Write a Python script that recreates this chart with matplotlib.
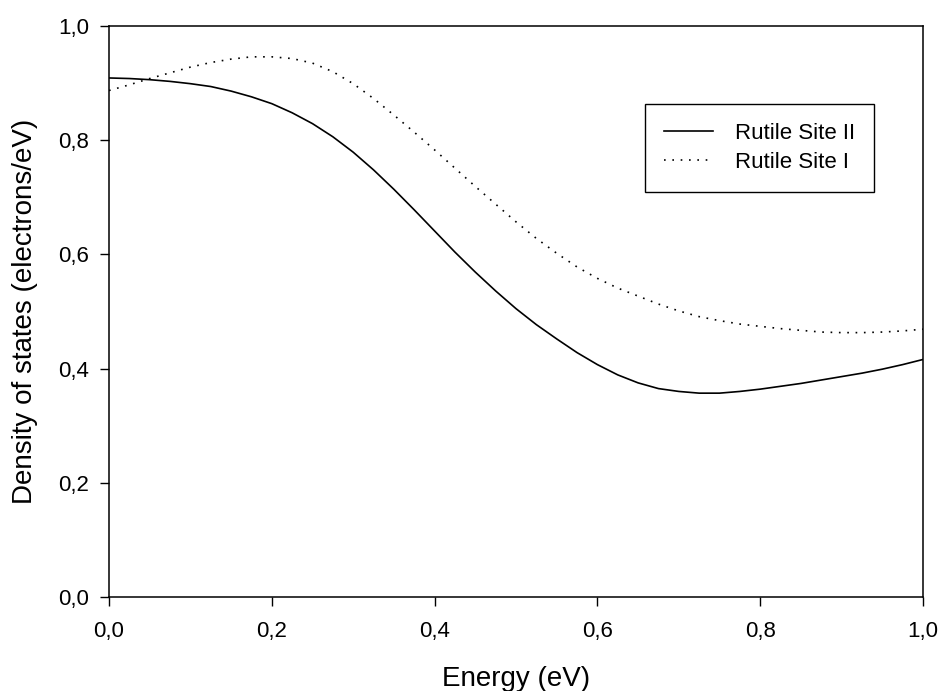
import matplotlib
matplotlib.use("Agg")
import matplotlib.pyplot as plt
from matplotlib.ticker import FixedLocator, FixedFormatter

plt.rcParams['font.family'] = ['Liberation Sans', 'DejaVu Sans']

energy = [0.000, 0.025, 0.050, 0.075, 0.100, 0.125, 0.150, 0.175, 0.200, 0.225,
          0.250, 0.275, 0.300, 0.325, 0.350, 0.375, 0.400, 0.425, 0.450, 0.475,
          0.500, 0.525, 0.550, 0.575, 0.600, 0.625, 0.650, 0.675, 0.700, 0.725,
          0.750, 0.775, 0.800, 0.825, 0.850, 0.875, 0.900, 0.925, 0.950, 0.975, 1.000]
site_ii = [0.909, 0.908, 0.906, 0.903, 0.899, 0.894, 0.886, 0.876, 0.864, 0.848,
           0.829, 0.806, 0.779, 0.748, 0.714, 0.678, 0.641, 0.604, 0.569, 0.536,
           0.505, 0.477, 0.452, 0.428, 0.407, 0.389, 0.375, 0.365, 0.360, 0.357,
           0.357, 0.360, 0.364, 0.369, 0.374, 0.380, 0.386, 0.392, 0.399, 0.407, 0.416]
site_i = [0.887, 0.897, 0.908, 0.918, 0.928, 0.936, 0.942, 0.946, 0.946, 0.943,
          0.935, 0.920, 0.899, 0.873, 0.844, 0.814, 0.783, 0.751, 0.719, 0.688,
          0.657, 0.628, 0.602, 0.578, 0.558, 0.541, 0.527, 0.513, 0.501, 0.491,
          0.484, 0.478, 0.474, 0.470, 0.467, 0.464, 0.463, 0.463, 0.464, 0.466, 0.469]

xticks = [0.0, 0.2, 0.4, 0.6, 0.8, 1.0]
xticklabels = ['0,0', '0,2', '0,4', '0,6', '0,8', '1,0']
yticks = [0.0, 0.2, 0.4, 0.6, 0.8, 1.0]
yticklabels = ['0,0', '0,2', '0,4', '0,6', '0,8', '1,0']

fig = plt.figure(figsize=(9.41, 6.91), dpi=100)
ax = fig.add_axes([109/941, 1 - 597/691, (923-109)/941, (597-26)/691])

ax.plot(energy, site_ii, color='black', lw=1.2, label='Rutile Site II')
ax.plot(energy, site_i, color='black', lw=1.2, linestyle=(0, (1, 4)), label='Rutile Site I')

ax.set_xlim(0, 1)
ax.set_ylim(0, 1)
ax.xaxis.set_major_locator(FixedLocator(xticks))
ax.xaxis.set_major_formatter(FixedFormatter(xticklabels))
ax.yaxis.set_major_locator(FixedLocator(yticks))
ax.yaxis.set_major_formatter(FixedFormatter(yticklabels))

ax.tick_params(axis='x', direction='out', length=6.5, width=1, labelsize=16, pad=11)
ax.tick_params(axis='y', direction='out', length=6.5, width=1, labelsize=16, pad=8)
for s in ax.spines.values():
    s.set_linewidth(1.1)

ax.set_xlabel('Energy (eV)', fontsize=20, labelpad=17)
ax.set_ylabel('Density of states (electrons/eV)', fontsize=20, labelpad=14)

leg = ax.legend(loc='upper right', bbox_to_anchor=(0.940, 0.863), fontsize=16,
                frameon=True, fancybox=False, edgecolor='black', framealpha=1,
                handlelength=2.2, handletextpad=1.0, borderpad=0.85, labelspacing=0.35,
                borderaxespad=0)
leg.get_frame().set_linewidth(1.0)

fig.savefig('out.png', dpi=100)
